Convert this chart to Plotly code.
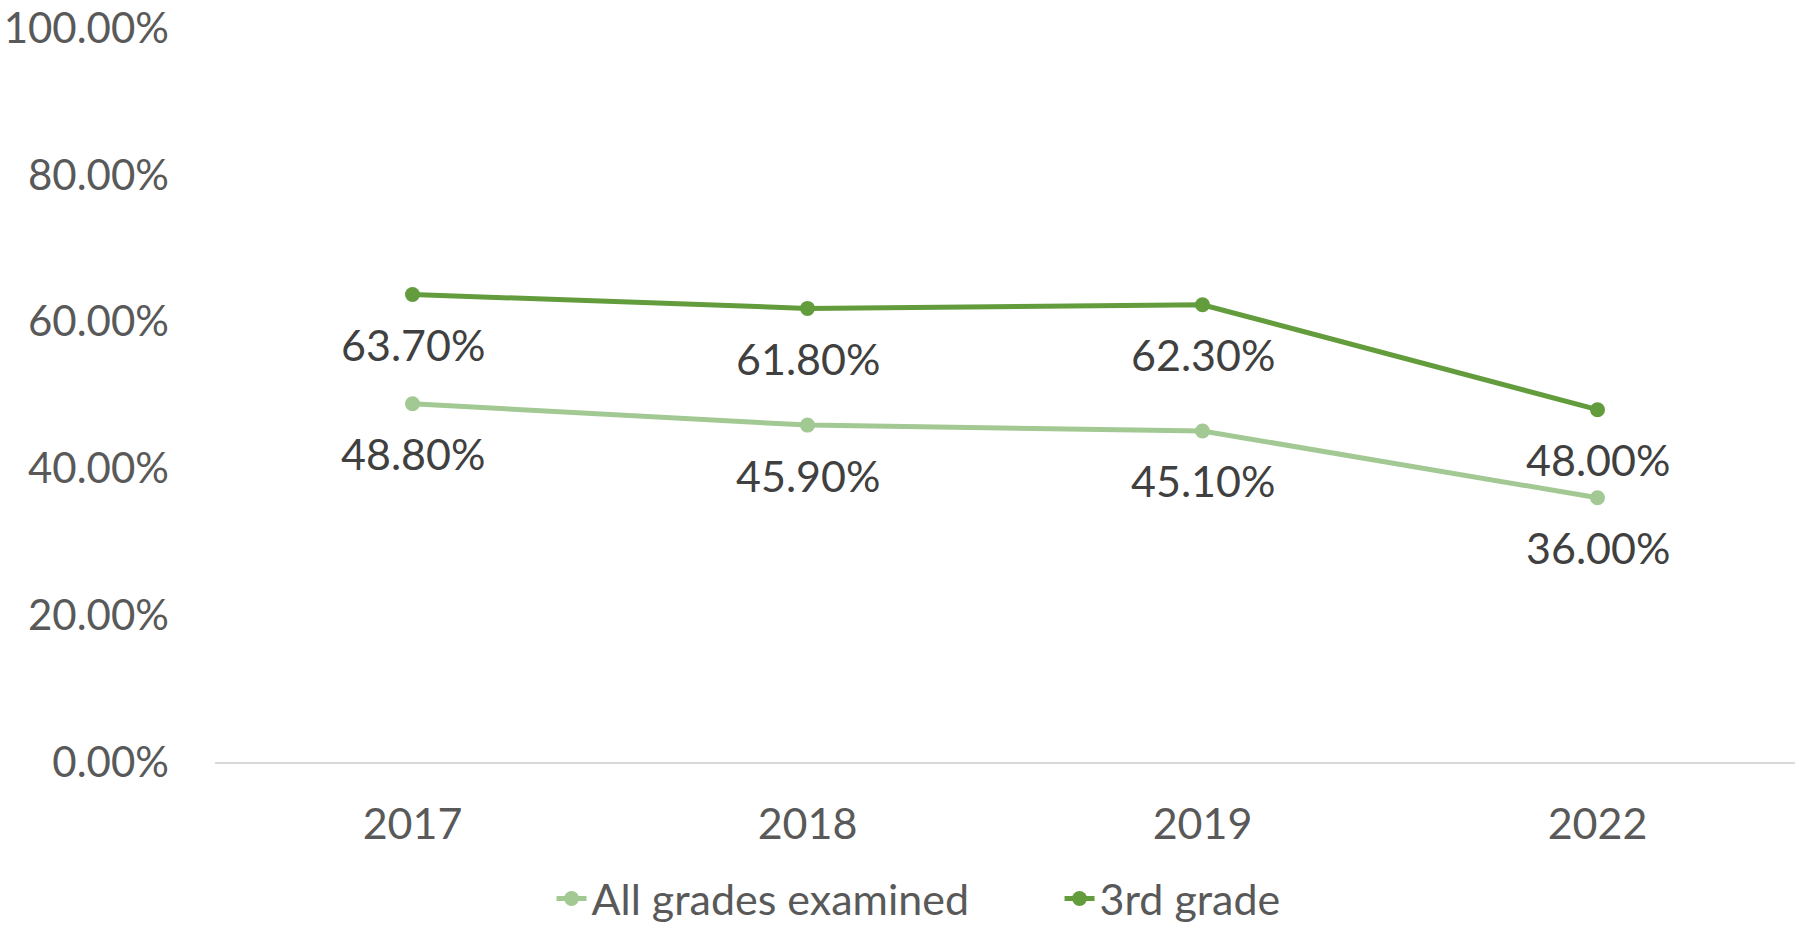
import plotly.graph_objects as go

years = ["2017", "2018", "2019", "2022"]
all_grades = [0.488, 0.459, 0.451, 0.360]
third_grade = [0.637, 0.618, 0.623, 0.480]
series_names = ["All grades examined", "3rd grade"]
y_ticks = [0, 0.2, 0.4, 0.6, 0.8, 1.0]

light = "#A2C993"
dark = "#629C3C"
FONT = "Lato, 'Open Sans', sans-serif"
tick_font = dict(family=FONT, size=43, color="#595959")
ytick_font = dict(family=FONT, size=42, color="#595959")
label_font = dict(family=FONT, size=43, color="#404040")

fig = go.Figure()
for name, vals, col in [(series_names[0], all_grades, light), (series_names[1], third_grade, dark)]:
    fig.add_trace(go.Scatter(
        x=years, y=vals, name=name, mode="lines+markers",
        line=dict(color=col, width=5), marker=dict(color=col, size=15),
    ))
    for i, v in enumerate(vals):
        fig.add_annotation(x=i, y=v, xref="x", yref="y", text=f"{v*100:.2f}%",
                           showarrow=False, xanchor="center", yanchor="middle",
                           yshift=-50, font=label_font)

fig.update_layout(
    width=1795, height=927,
    margin=dict(l=215, r=0, t=27.5, b=164.5, autoexpand=False),
    paper_bgcolor="white", plot_bgcolor="white",
    showlegend=True,
    legend=dict(orientation="h", x=0.213, xanchor="left", y=-0.186, yanchor="middle",
                font=dict(family=FONT, size=43, color="#595959"),
                itemwidth=30, entrywidth=463, tracegroupgap=0, bgcolor="rgba(0,0,0,0)"),
)
fig.update_xaxes(type="category", range=[-0.5, 3.5], showgrid=False, showline=True,
                 linecolor="#D9D9D9", linewidth=2, ticks="", tickfont=tick_font,
                 ticklabelstandoff=23, zeroline=False, automargin=False)
fig.update_yaxes(range=[0, 1], tickvals=y_ticks, tickformat=".2%", showgrid=False,
                 showline=False, zeroline=False, ticks="", tickfont=ytick_font,
                 ticklabelstandoff=45, automargin=False)

fig.write_html("out.html", config={"displayModeBar": False},
               post_script="document.body.style.margin='0';document.body.style.overflow='hidden';")
